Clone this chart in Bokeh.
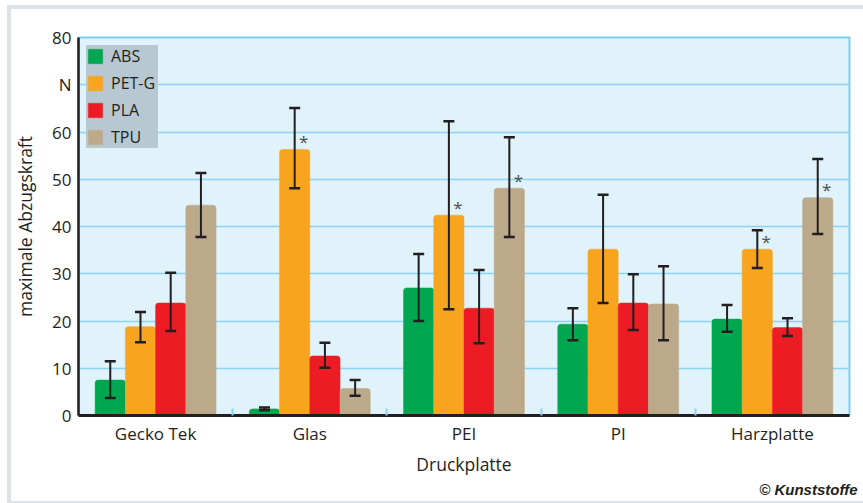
from bokeh.plotting import figure
from bokeh.models import (ColumnDataSource, Whisker, TeeHead, Legend, LegendItem,
                          FixedTicker, Range1d, Title)
from bokeh.core.properties import value
from bokeh.embed import file_html
from bokeh.resources import INLINE

# ---- data ----
categories = ["Gecko Tek", "Glas", "PEI", "PI", "Harzplatte"]
series = ["ABS", "PET-G", "PLA", "TPU"]
colors = ["#00a650", "#f7a51e", "#ed1c24", "#bca98a"]

abs_mean = [7.5, 1.4, 27.0, 19.3, 20.4]
abs_lo = [3.7, 1.1, 20.0, 15.9, 17.7]
abs_hi = [11.5, 1.7, 34.2, 22.7, 23.4]

petg_mean = [18.8, 56.3, 42.4, 35.2, 35.2]
petg_lo = [15.5, 48.1, 22.5, 23.8, 31.2]
petg_hi = [21.9, 65.1, 62.3, 46.7, 39.2]

pla_mean = [23.8, 12.6, 22.7, 23.8, 18.6]
pla_lo = [17.9, 10.1, 15.3, 18.1, 16.8]
pla_hi = [30.2, 15.4, 30.8, 29.9, 20.6]

tpu_mean = [44.5, 5.7, 48.1, 23.6, 46.1]
tpu_lo = [37.8, 4.2, 37.8, 15.9, 38.4]
tpu_hi = [51.3, 7.5, 58.9, 31.6, 54.3]

# significance markers (*)
star_category = ["Glas", "PEI", "PEI", "Harzplatte", "Harzplatte"]
star_series = ["PET-G", "PET-G", "TPU", "PET-G", "TPU"]

y_ticks = [0, 10, 20, 30, 40, 50, 60, 70, 80]
y_unit_label = {70: "N"}

means = [abs_mean, petg_mean, pla_mean, tpu_mean]
lows = [abs_lo, petg_lo, pla_lo, tpu_lo]
highs = [abs_hi, petg_hi, pla_hi, tpu_hi]

FONT = "Open Sans"
TXT = "#231f20"
BAR_W = 0.196
centers = [i + 0.5 for i in range(len(categories))]
offsets = [(k - 1.5) * BAR_W for k in range(len(series))]

p = figure(width=863, height=503, output_backend="svg", toolbar_location=None,
           x_range=Range1d(0, len(categories)), y_range=Range1d(0, 80),
           min_border_left=78, min_border_right=14, min_border_top=37, min_border_bottom=88)
band = "linear-gradient(#dde2e7,#dde2e7)"
p.styles = {"background": (f"{band} 7px 5px / 4px 498px no-repeat, "
                           f"{band} 7px 5px / 856px 4px no-repeat, "
                           f"{band} 7px 501px / 856px 2px no-repeat, white")}
p.border_fill_alpha = 0
p.background_fill_color = "#e0f2fa"
p.outline_line_color = "#7fcdee"
p.outline_line_width = 2

# grid
p.xgrid.grid_line_color = None
p.ygrid.grid_line_color = "#8dd4f2"
p.ygrid.grid_line_width = 1.6
p.ygrid.ticker = FixedTicker(ticks=y_ticks)

# y axis
p.yaxis.ticker = FixedTicker(ticks=y_ticks)
p.yaxis.major_label_overrides = y_unit_label
p.yaxis.axis_line_color = TXT
p.yaxis.axis_line_width = 2.5
p.yaxis.major_tick_in = 0
p.yaxis.major_tick_out = 0
p.yaxis.minor_tick_line_color = None
p.yaxis.major_label_text_font = FONT
p.yaxis.major_label_text_font_size = "17px"
p.yaxis.major_label_text_color = TXT
p.yaxis.major_label_standoff = 7
p.yaxis.axis_label = "maximale Abzugskraft"
p.yaxis.axis_label_text_font = FONT
p.yaxis.axis_label_text_font_size = "17.5px"
p.yaxis.axis_label_text_font_style = "normal"
p.yaxis.axis_label_text_color = TXT
p.yaxis.axis_label_standoff = 12

# x axis
p.xaxis.ticker = FixedTicker(ticks=centers, minor_ticks=list(range(1, len(categories))))
p.xaxis.major_label_overrides = {c: n for c, n in zip(centers, categories)}
p.xaxis.axis_line_color = TXT
p.xaxis.axis_line_width = 3
p.xaxis.major_tick_in = 0
p.xaxis.major_tick_out = 0
p.xaxis.minor_tick_in = 7
p.xaxis.minor_tick_out = 0
p.xaxis.minor_tick_line_color = "#8dd4f2"
p.xaxis.minor_tick_line_width = 2
p.xaxis.major_label_text_font = FONT
p.xaxis.major_label_text_font_size = "17px"
p.xaxis.major_label_text_color = TXT
p.xaxis.major_label_standoff = 6
p.xaxis.axis_label = "Druckplatte"
p.xaxis.axis_label_text_font = FONT
p.xaxis.axis_label_text_font_size = "17.5px"
p.xaxis.axis_label_text_font_style = "normal"
p.xaxis.axis_label_text_color = TXT
p.xaxis.axis_label_standoff = 4

items = []
for k, name in enumerate(series):
    src = ColumnDataSource(dict(
        x=[c + offsets[k] for c in centers],
        top=means[k], lo=lows[k], hi=highs[k]))
    r = p.vbar(x="x", top="top", bottom=0, width=BAR_W, source=src,
               fill_color=colors[k], line_color=colors[k], line_alpha=0.5,
               border_radius=(3, 3, 0, 0))
    items.append(LegendItem(label=name, renderers=[r]))
    w = Whisker(source=src, base="x", upper="hi", lower="lo",
                line_color=TXT, line_width=2, level="annotation",
                upper_head=TeeHead(size=11, line_color=TXT, line_width=2.5),
                lower_head=TeeHead(size=11, line_color=TXT, line_width=2.5))
    p.add_layout(w)

# asterisks
sx, sy = [], []
for c, s in zip(star_category, star_series):
    i = categories.index(c)
    k = series.index(s)
    sx.append(centers[i] + offsets[k])
    sy.append(means[k][i])
p.text(x=sx, y=sy, text=["*"] * len(sx), x_offset=9, y_offset=-8,
       text_font=value(FONT), text_font_size="17px", text_color="#4d4d4d",
       text_align="center", text_baseline="middle")

legend = Legend(items=items, location="top_left", orientation="vertical")
legend.background_fill_color = "#b8c8d2"
legend.background_fill_alpha = 1
legend.border_line_color = None
legend.margin = 8
legend.padding = 9
legend.spacing = 5
legend.glyph_width = 18
legend.glyph_height = 18
legend.label_height = 18
legend.label_width = 47
legend.label_standoff = 7
legend.label_text_font = FONT
legend.label_text_font_size = "16px"
legend.label_text_color = TXT
p.add_layout(legend)

p.add_layout(Title(text="© Kunststoffe", align="right", text_font="Liberation Sans",
                   text_font_size="15px", text_font_style="bold italic",
                   text_color=TXT, standoff=0, offset=-8), "below")

open("out.html", "w").write(file_html(p, INLINE))
